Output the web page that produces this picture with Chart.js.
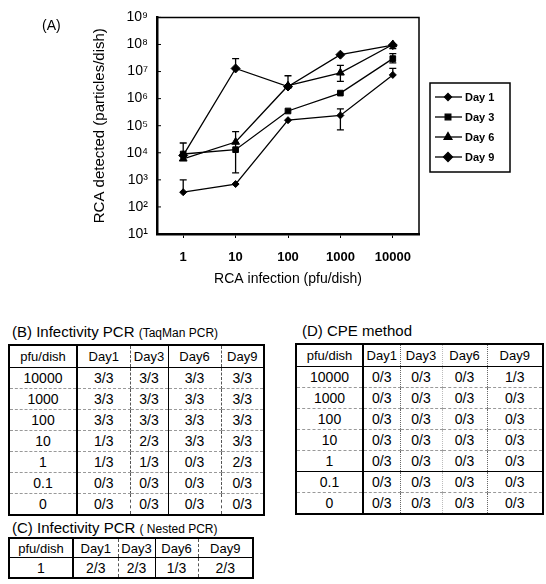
<!DOCTYPE html>
<html>
<head>
<meta charset="utf-8">
<script src="https://cdn.jsdelivr.net/npm/chart.js@4.4.1/dist/chart.umd.min.js"></script>
<style>
body{margin:0;background:#fff;font-family:Arial,"Liberation Sans",sans-serif;color:#000}
#page{position:relative;width:546px;height:584px;overflow:hidden}
#chart-box{position:absolute;left:0;top:0;width:546px;height:300px}
.tag{position:absolute;font-size:14px;line-height:16px}
.tbl-title{position:absolute;font-size:15px;line-height:18px;white-space:nowrap}
.tbl-title small{font-size:12px}
table.grid{position:absolute;border-collapse:collapse;border:2px solid #000;font-size:14px;table-layout:fixed}
table.grid td{padding:0;text-align:center;white-space:nowrap;border-bottom:1px dashed #999}
table.grid tr.head td{border-bottom:1px solid #000;font-size:13px}
table.grid td.pfu{border-right:2px solid #000}
</style>
</head>
<body>
<div id="page">
  <div id="chart-box"><canvas id="rca-chart" width="546" height="300"></canvas></div>
  <div class="tag" style="left:42px;top:17px">(A)</div>

  <div class="tbl-title" style="left:12px;top:323px">(B) Infectivity PCR <small>(TaqMan PCR)</small></div>
  <table class="grid" id="table-b" style="left:8px;top:344px"></table>

  <div class="tbl-title" style="left:302px;top:322px">(D) CPE method</div>
  <table class="grid" id="table-d" style="left:295px;top:343px"></table>

  <div class="tbl-title" style="left:12px;top:519px">(C) Infectivity PCR <small>( Nested PCR)</small></div>
  <table class="grid" id="table-c" style="left:8px;top:537px"></table>
</div>

<script>
// (A) RCA detected per dish
const doses = ['1', '10', '100', '1000', '10000']
const dayLabels = ['Day 1', 'Day 3', 'Day 6', 'Day 9']

const day1 = [350, 700, 160000, 240000, 7500000]
const day3 = [9000, 13000, 350000, 1600000, 30000000]
const day6 = [6000, 25000, 3000000, 9000000, 100000000]
const day9 = [8000, 13000000, 2800000, 42000000, 95000000]

// error bar ends (null = none)
const day1Hi = [1000, null, null, 420000, 13000000]
const day1Lo = [null, null, null, 70000, null]
const day3Hi = [23000, 60000, null, null, 46000000]
const day3Lo = [null, 1800, null, null, 21000000]
const day6Hi = [null, null, 7000000, 17000000, null]
const day6Lo = [null, null, null, 4300000, 70000000]
const day9Hi = [null, 30000000, null, null, null]
const day9Lo = [null, null, null, null, null]

const yTickValues = [1e1, 1e2, 1e3, 1e4, 1e5, 1e6, 1e7, 1e8, 1e9]

// tables
const dayCols = ['Day1', 'Day3', 'Day6', 'Day9']
const pfuRows = ['10000', '1000', '100', '10', '1', '0.1', '0']
const taqmanPCR = [
    ['3/3', '3/3', '3/3', '3/3'],
    ['3/3', '3/3', '3/3', '3/3'],
    ['3/3', '3/3', '3/3', '3/3'],
    ['1/3', '2/3', '3/3', '3/3'],
    ['1/3', '1/3', '0/3', '2/3'],
    ['0/3', '0/3', '0/3', '0/3'],
    ['0/3', '0/3', '0/3', '0/3']
]
const cpeMethod = [
    ['0/3', '0/3', '0/3', '1/3'],
    ['0/3', '0/3', '0/3', '0/3'],
    ['0/3', '0/3', '0/3', '0/3'],
    ['0/3', '0/3', '0/3', '0/3'],
    ['0/3', '0/3', '0/3', '0/3'],
    ['0/3', '0/3', '0/3', '0/3'],
    ['0/3', '0/3', '0/3', '0/3']
]
const nestedRows = ['1']
const nestedPCR = [['2/3', '2/3', '1/3', '2/3']]

const sup = {'0':'⁰','1':'¹','2':'²','3':'³','4':'⁴','5':'⁵','6':'⁶','7':'⁷','8':'⁸','9':'⁹'}

Chart.defaults.font.family = 'Arial, "Liberation Sans", sans-serif'
Chart.defaults.color = '#000'

const makeSet = (label, data, hi, lo, style, r) => ({
    label: label,
    data: data,
    errHi: hi,
    errLo: lo,
    borderColor: '#000',
    backgroundColor: '#000',
    borderWidth: 1.3,
    pointStyle: style,
    pointRadius: r,
    pointBorderWidth: 1,
    tension: 0
})

// draws the error bars, frame, inner y ticks and the boxed legend
const extras = {
    id: 'extras',
    afterDatasetsDraw(chart) {
        const ctx = chart.ctx
        const y = chart.scales.y
        ctx.save()
        ctx.strokeStyle = '#000'
        ctx.lineWidth = 1.3
        chart.data.datasets.forEach((ds, i) => {
            const meta = chart.getDatasetMeta(i)
            meta.data.forEach((pt, j) => {
                [ds.errHi[j], ds.errLo[j]].forEach(v => {
                    if (v == null) return
                    const py = y.getPixelForValue(v)
                    ctx.beginPath()
                    ctx.moveTo(pt.x, pt.y)
                    ctx.lineTo(pt.x, py)
                    ctx.moveTo(pt.x - 3.5, py)
                    ctx.lineTo(pt.x + 3.5, py)
                    ctx.stroke()
                })
            })
        })
        ctx.restore()
    },
    afterDraw(chart) {
        const ctx = chart.ctx
        const a = chart.chartArea
        ctx.save()
        ctx.strokeStyle = '#000'
        // frame top / right
        ctx.lineWidth = 1.5
        ctx.beginPath()
        ctx.moveTo(a.left, a.top)
        ctx.lineTo(a.right, a.top)
        ctx.lineTo(a.right, a.bottom)
        ctx.stroke()
        // inner ticks on the y axis
        ctx.lineWidth = 1
        chart.scales.y.ticks.forEach(t => {
            const py = chart.scales.y.getPixelForValue(t.value)
            ctx.beginPath()
            ctx.moveTo(a.left, py)
            ctx.lineTo(a.left + 4, py)
            ctx.stroke()
        })
        // legend
        const lx = 430, ly = 83, lw = 80, lh = 89
        ctx.lineWidth = 1.5
        ctx.strokeRect(lx, ly, lw, lh)
        ctx.font = 'bold 11px Arial, "Liberation Sans", sans-serif'
        ctx.textBaseline = 'middle'
        ctx.fillStyle = '#000'
        chart.data.datasets.forEach((ds, i) => {
            const iy = ly + 14 + i * 20
            ctx.lineWidth = 1.3
            ctx.beginPath()
            ctx.moveTo(lx + 5, iy)
            ctx.lineTo(lx + 32, iy)
            ctx.stroke()
            Chart.helpers.drawPoint(ctx, {pointStyle: ds.pointStyle, radius: ds.pointRadius, rotation: 0, borderWidth: 1}, lx + 18, iy)
            ctx.fillText(ds.label, lx + 35, iy + 1)
        })
        ctx.restore()
    }
}

new Chart(document.getElementById('rca-chart'), {
    type: 'line',
    data: {
        labels: doses,
        datasets: [
            makeSet(dayLabels[0], day1, day1Hi, day1Lo, 'rectRot', 3.5),
            makeSet(dayLabels[1], day3, day3Hi, day3Lo, 'rect', 4),
            makeSet(dayLabels[2], day6, day6Hi, day6Lo, 'triangle', 4.5),
            makeSet(dayLabels[3], day9, day9Hi, day9Lo, 'rectRot', 4.5)
        ]
    },
    options: {
        responsive: false,
        animation: false,
        layout: {padding: {left: 87, top: 15, right: 127, bottom: 8}},
        plugins: {legend: {display: false}, tooltip: {enabled: false}},
        scales: {
            x: {
                type: 'category',
                offset: true,
                afterFit: s => { s.height = 58 },
                grid: {offset: false, drawOnChartArea: false, tickLength: 4, color: '#000'},
                border: {color: '#000', width: 2.5},
                ticks: {font: {size: 13, weight: 'bold'}, padding: 12},
                title: {display: true, text: 'RCA infection (pfu/dish)', font: {size: 14}}
            },
            y: {
                type: 'logarithmic',
                min: 10,
                max: 1e9,
                afterFit: s => { s.width = 70 },
                afterBuildTicks: s => { s.ticks = yTickValues.map(v => ({value: v})) },
                grid: {drawOnChartArea: false, drawTicks: false},
                border: {color: '#000', width: 2.5},
                ticks: {
                    autoSkip: false,
                    padding: 9,
                    font: {size: 14},
                    callback: v => '10' + String(Math.round(Math.log10(v))).split('').map(c => sup[c]).join('')
                },
                title: {display: true, text: 'RCA detected (particles/dish)', font: {size: 15}}
            }
        }
    },
    plugins: [extras]
})

// tables
const fillTable = (id, rows, values, widths, dividers, headH, rowH, solidAfter) => {
    const t = document.getElementById(id)
    const cg = document.createElement('colgroup')
    widths.forEach(w => {
        const c = document.createElement('col')
        c.style.width = w + 'px'
        cg.appendChild(c)
    })
    t.appendChild(cg)
    t.style.width = widths.reduce((s, w) => s + w, 0) + 'px'
    const addRow = (cells, cls, h, solid) => {
        const tr = document.createElement('tr')
        if (cls) tr.className = cls
        cells.forEach((txt, k) => {
            const td = document.createElement('td')
            td.textContent = txt
            td.style.height = h + 'px'
            if (k === 0) td.className = 'pfu'
            else if (k < cells.length - 1) td.style.borderRight = dividers[k - 1]
            if (solid) td.style.borderBottom = '1.5px solid #000'
            tr.appendChild(td)
        })
        t.appendChild(tr)
    }
    addRow(['pfu/dish', ...dayCols], 'head', headH)
    rows.forEach((r, i) => addRow([r, ...values[i]], '', rowH, solidAfter === i))
}

fillTable('table-b', pfuRows, taqmanPCR, [68, 53, 38, 53, 43],
    ['1px dashed #555', '1px solid #000', '1px dashed #555'], 21, 20, -1)
fillTable('table-d', pfuRows, cpeMethod, [67, 37, 42, 45, 56],
    ['1px dotted #666', '1px dotted #bbb', '1px dotted #666'], 21, 20, 4)
fillTable('table-c', nestedRows, nestedPCR, [64, 45, 37, 43, 55],
    ['1px dashed #555', '1px solid #000', '1px dashed #555'], 18, 19, -1)
</script>
</body>
</html>
